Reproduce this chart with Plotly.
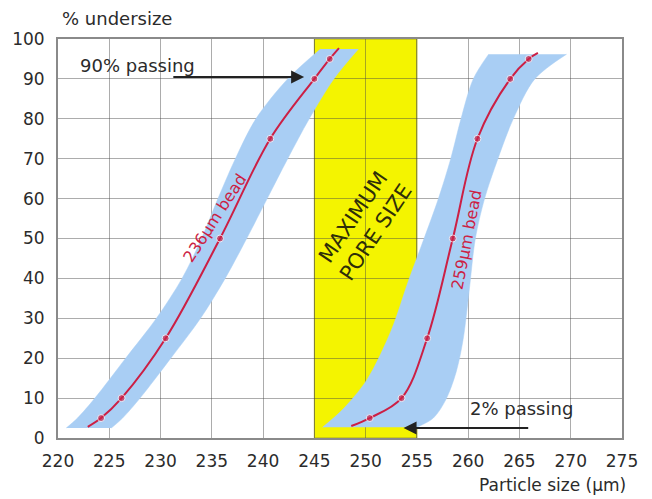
import plotly.graph_objects as go

# Axis ticks
x_ticks = list(range(220, 280, 5))
y_ticks = list(range(0, 110, 10))

# Maximum pore size window (µm)
pore_window = [245, 255]

# 236 µm bead: cumulative % undersize curve (first/last points are line ends, not data markers)
bead236_x = [222.9, 224.2, 226.2, 230.5, 235.8, 240.7, 245.0, 246.5, 247.4]
bead236_y = [2.8, 5, 10, 25, 50, 75, 90, 95, 97.7]
bead236_marked = [0, 1, 1, 1, 1, 1, 1, 1, 0]

# 259 µm bead
bead259_x = [248.6, 250.4, 253.5, 256.0, 258.5, 260.9, 264.1, 265.9, 266.8]
bead259_y = [3.0, 5, 10, 25, 50, 75, 90, 95, 96.5]
bead259_marked = [0, 1, 1, 1, 1, 1, 1, 1, 0]

# Tolerance bands: left and right edges, as x at given % undersize
band236_y = [2.5, 5, 10, 20, 30, 40, 50, 60, 70, 80, 90, 97.5]
band236_left_x = [220.8, 221.9, 223.6, 226.6, 229.6, 232.1, 234.0, 235.6, 237.3, 239.3, 242.4, 245.6]
band236_right_x = [225.2, 226.3, 228.0, 231.0, 233.9, 236.3, 238.4, 240.4, 242.4, 244.5, 246.9, 249.3]

band259_left_y = [2.7, 7, 14.5, 27, 39.6, 50, 60, 70, 80, 90, 96.2]
band259_left_x = [245.8, 247.7, 250.1, 252.5, 254.2, 255.7, 257.1, 258.3, 259.3, 260.5, 262.0]
band259_right_y = [2.7, 5, 9.5, 16.3, 24.6, 37, 50, 60, 70, 80, 90, 96.2]
band259_right_x = [255.0, 256.6, 257.8, 258.8, 259.5, 260.1, 260.7, 261.6, 262.9, 264.4, 266.5, 269.6]

FONT = "DejaVu Sans"
BAND = "#a9cef4"
CURVE = "#cc1f44"
TXT = "#2b2b2b"

fig = go.Figure()

# Bands on the main subplot, beneath the grid
for lx, ly, rx, ry in [
    (band236_left_x, band236_y, band236_right_x, band236_y),
    (band259_left_x, band259_left_y, band259_right_x, band259_right_y),
]:
    fig.add_trace(go.Scatter(
        x=lx, y=ly, mode="lines",
        line=dict(color=BAND, width=0.5, shape="spline", smoothing=0.9),
        hoverinfo="skip", showlegend=False, xaxis="x", yaxis="y",
    ))
    fig.add_trace(go.Scatter(
        x=rx, y=ry, mode="lines", fill="tonextx", fillcolor=BAND,
        line=dict(color=BAND, width=0.5, shape="spline", smoothing=0.9),
        hoverinfo="skip", showlegend=False, xaxis="x", yaxis="y",
    ))

# Curves with measured points on the overlay subplot, above the grid
for cx, cy, marked in [
    (bead236_x, bead236_y, bead236_marked),
    (bead259_x, bead259_y, bead259_marked),
]:
    fig.add_trace(go.Scatter(
        x=cx, y=cy, mode="lines+markers",
        line=dict(color=CURVE, width=2, shape="spline", smoothing=1.0),
        marker=dict(color=CURVE, size=[7 * m for m in marked], symbol="circle"),
        showlegend=False, xaxis="x2", yaxis="y2",
    ))

fig.add_shape(
    type="rect", xref="x", yref="y",
    x0=pore_window[0], x1=pore_window[1], y0=0, y1=100,
    fillcolor="#f4f400", line=dict(color="#a8a828", width=1), layer="below",
)

xr = [220, 275]
yr = [0, 100]
tickfont = dict(family=FONT, size=17, color=TXT)

fig.update_layout(
    width=652, height=499,
    margin=dict(l=53, r=30, t=39, b=61),
    paper_bgcolor="white", plot_bgcolor="white",
    xaxis=dict(range=xr, tickvals=x_ticks, showgrid=False, zeroline=False,
               showline=True, mirror=True, linecolor="#8a8a8a", linewidth=2,
               tickfont=tickfont, ticks="", ticklabelstandoff=7),
    yaxis=dict(range=yr, tickvals=y_ticks, showgrid=False, zeroline=False,
               showline=True, mirror=True, linecolor="#8a8a8a", linewidth=2,
               tickfont=tickfont, ticks="", ticklabelstandoff=8),
    xaxis2=dict(range=xr, tickvals=x_ticks, overlaying="x", showgrid=True,
                gridcolor="rgba(70,70,70,0.45)", gridwidth=1, zeroline=False,
                showticklabels=False, showline=False),
    yaxis2=dict(range=yr, tickvals=y_ticks, overlaying="y", showgrid=True,
                gridcolor="rgba(70,70,70,0.45)", gridwidth=1, zeroline=False,
                showticklabels=False, showline=False),
)

ann = []
# Axis titles
ann.append(dict(text="% undersize", xref="paper", yref="paper", x=0, y=1,
                xanchor="left", yanchor="bottom", xshift=2, yshift=8, showarrow=False,
                font=dict(family=FONT, size=18, color=TXT)))
ann.append(dict(text="Particle size (µm)", xref="paper", yref="paper", x=1, y=0,
                xanchor="right", yanchor="top", xshift=6, yshift=-35, showarrow=False,
                font=dict(family=FONT, size=17, color=TXT)))

# Passing arrows
ann.append(dict(x=244.0, y=90.5, ax=231.1, ay=90.5, xref="x", yref="y", axref="x", ayref="y",
                showarrow=True, arrowhead=2, arrowsize=1.3, arrowwidth=2, arrowcolor="#222",
                text=""))
ann.append(dict(x=227.8, y=93.3, xref="x", yref="y", text="90% passing", showarrow=False,
                font=dict(family=FONT, size=18, color=TXT)))
ann.append(dict(x=253.7, y=2.5, ax=266.0, ay=2.5, xref="x", yref="y", axref="x", ayref="y",
                showarrow=True, arrowhead=2, arrowsize=1.3, arrowwidth=2, arrowcolor="#222",
                text=""))
ann.append(dict(x=265.2, y=7.3, xref="x", yref="y", text="2% passing", showarrow=False,
                font=dict(family=FONT, size=18, color=TXT)))

# Labels
ann.append(dict(x=249.9, y=53.5, xref="x", yref="y", text="MAXIMUM<br>PORE SIZE",
                textangle=-56, showarrow=False,
                font=dict(family=FONT, size=21, color="#2e2e08")))
ann.append(dict(x=235.25, y=55.1, xref="x", yref="y", text="236µm bead",
                textangle=-57, showarrow=False,
                font=dict(family=FONT, size=16, color=CURVE)))
ann.append(dict(x=259.8, y=49.6, xref="x", yref="y", text="259µm bead",
                textangle=-79, showarrow=False,
                font=dict(family=FONT, size=16, color=CURVE)))

fig.update_layout(annotations=ann)

fig.write_html("out.html")
